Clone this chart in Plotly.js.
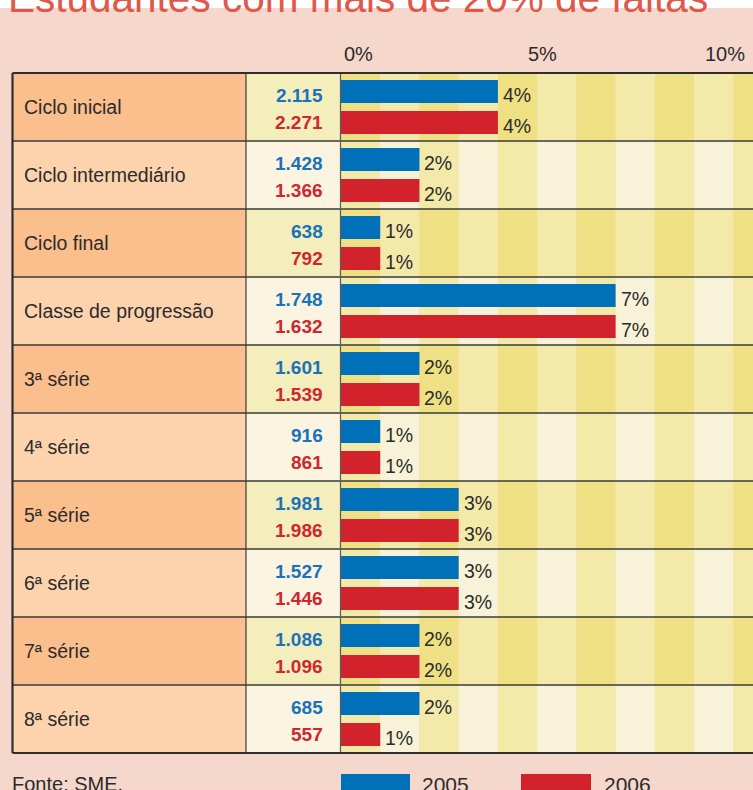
<!DOCTYPE html>
<html>
<head>
<meta charset="utf-8">
<script src="https://cdn.plot.ly/plotly-3.0.1.min.js"></script>
<style>html,body{margin:0;padding:0;background:#f5d7cc;}</style>
</head>
<body>
<div id="chart" style="width:753px;height:790px;"></div>
<script>
// ---- data ----
const titleText = 'Estudantes com mais de 20% de faltas';
const categories = ['Ciclo inicial','Ciclo intermediário','Ciclo final','Classe de progressão','3ª série','4ª série','5ª série','6ª série','7ª série','8ª série'];
const seriesNames = ['2005','2006'];
const students2005 = [2115,1428,638,1748,1601,916,1981,1527,1086,685];
const students2006 = [2271,1366,792,1632,1539,861,1986,1446,1096,557];
const pct2005 = [4,2,1,7,2,1,3,3,2,2];
const pct2006 = [4,2,1,7,2,1,3,3,2,1];
const tickValues = [0,5,10];
const tickLabels = ['0%','5%','10%'];
const sourceText = 'Fonte: SME.';

// ---- styling ----
const W = 753, H = 790;
const FONT = '"Liberation Sans", Arial, sans-serif';
const BLUE = '#0070b9', RED = '#d2222b';
const NUM_BLUE = '#1a72bb', NUM_RED = '#cf2630';
const TXT = '#2b2b2b';
const LINE = '#3a3a3a';
const px = x => x / W;
const py = y => 1 - y / H;
const tableTop = 73, tableBottom = 753;
const colLabelL = 12, colNumL = 246, colBarL = 341;
const pxPerPct = 39.23;
const xMax = (W - colBarL) / pxPerPct;
const tickShift = [17, 5, -8];

function fmt(n){ return String(n).replace(/\B(?=(\d{3})+(?!\d))/g, '.'); }

const traces = [
  {type:'bar', orientation:'h', name:seriesNames[0], y:categories, x:pct2005,
   marker:{color:BLUE, line:{width:0}}, hoverinfo:'skip'},
  {type:'bar', orientation:'h', name:seriesNames[1], y:categories, x:pct2006,
   marker:{color:RED, line:{width:0}}, hoverinfo:'skip'}
];

const shapes = [];
// white strip at very top
shapes.push({type:'rect', xref:'paper', yref:'paper', x0:0, x1:1, y0:py(8), y1:1, fillcolor:'#ffffff', line:{width:0}, layer:'below'});
categories.forEach((c, r) => {
  const odd = r % 2 === 0;
  shapes.push({type:'rect', xref:'paper', yref:'y', x0:px(colLabelL), x1:px(colNumL), y0:r-0.5, y1:r+0.5,
    fillcolor: odd ? '#fbbe8d' : '#fdd3ae', line:{width:0}, layer:'below'});
  shapes.push({type:'rect', xref:'paper', yref:'y', x0:px(colNumL), x1:px(colBarL), y0:r-0.5, y1:r+0.5,
    fillcolor: odd ? '#f4edbc' : '#faf4e0', line:{width:0}, layer:'below'});
  for (let b = 0; b < Math.ceil(xMax); b++) {
    const dark = b % 2 === 0;
    const col = odd ? (dark ? '#eee083' : '#f3e9a9') : (dark ? '#f3e9a9' : '#f8f3d8');
    shapes.push({type:'rect', xref:'x', yref:'y', x0:b, x1:Math.min(b+1, xMax+0.5), y0:r-0.5, y1:r+0.5,
      fillcolor:col, line:{width:0}, layer:'below'});
  }
  if (r > 0) shapes.push({type:'line', xref:'paper', yref:'y', x0:px(colLabelL), x1:1.01, y0:r-0.5, y1:r-0.5,
    line:{color:LINE, width:1.5}, layer:'above'});
});
shapes.push({type:'line', xref:'paper', yref:'paper', x0:px(colNumL), x1:px(colNumL), y0:py(tableBottom), y1:py(tableTop), line:{color:LINE, width:1.2}, layer:'above'});
shapes.push({type:'line', xref:'paper', yref:'paper', x0:px(colBarL-0.5), x1:px(colBarL-0.5), y0:py(tableBottom), y1:py(tableTop), line:{color:'#5a5a5a', width:1.2}, layer:'above'});
shapes.push({type:'line', xref:'paper', yref:'paper', x0:px(colLabelL+0.5), x1:1.01, y0:py(tableTop), y1:py(tableTop), line:{color:'#2e2e2e', width:2.2}, layer:'above'});
shapes.push({type:'line', xref:'paper', yref:'paper', x0:px(colLabelL+0.5), x1:1.01, y0:py(tableBottom), y1:py(tableBottom), line:{color:'#2e2e2e', width:2.2}, layer:'above'});
shapes.push({type:'line', xref:'paper', yref:'paper', x0:px(colLabelL+0.5), x1:px(colLabelL+0.5), y0:py(tableBottom), y1:py(tableTop), line:{color:'#2e2e2e', width:2.2}, layer:'above'});
shapes.push({type:'rect', xref:'paper', yref:'paper', x0:px(341), x1:px(410), y0:-0.05, y1:py(774), fillcolor:BLUE, line:{width:0}});
shapes.push({type:'rect', xref:'paper', yref:'paper', x0:px(521), x1:px(591), y0:-0.05, y1:py(774), fillcolor:RED, line:{width:0}});

const annotations = [];
annotations.push({text:titleText, xref:'paper', yref:'paper', x:px(6), y:py(23), xanchor:'left', yanchor:'bottom',
  showarrow:false, font:{family:FONT, size:40.5, color:'#e0584a'}});
categories.forEach((c, r) => {
  annotations.push({text:c, xref:'paper', yref:'y', x:px(22), y:c, xanchor:'left', yanchor:'middle', showarrow:false,
    font:{family:FONT, size:19.5, color:TXT}});
  annotations.push({text:'<b>'+fmt(students2005[r])+'</b>', xref:'paper', yref:'y', x:px(325), y:c, yshift:12, xanchor:'right', yanchor:'middle', showarrow:false,
    font:{family:FONT, size:19, color:NUM_BLUE}});
  annotations.push({text:'<b>'+fmt(students2006[r])+'</b>', xref:'paper', yref:'y', x:px(325), y:c, yshift:-15, xanchor:'right', yanchor:'middle', showarrow:false,
    font:{family:FONT, size:19, color:NUM_RED}});
  // percentage labels next to the bars
  annotations.push({text:pct2005[r]+'%', xref:'x', yref:'y', x:pct2005[r], y:c, xshift:3, yshift:12.5, xanchor:'left', yanchor:'middle', showarrow:false,
    font:{family:FONT, size:19.5, color:TXT}});
  annotations.push({text:pct2006[r]+'%', xref:'x', yref:'y', x:pct2006[r], y:c, xshift:3, yshift:-19, xanchor:'left', yanchor:'middle', showarrow:false,
    font:{family:FONT, size:19.5, color:TXT}});
});
tickValues.forEach((v, i) => {
  annotations.push({text:tickLabels[i], xref:'x', yref:'paper', x:v, xshift:tickShift[i], y:py(54), xanchor:'center', yanchor:'middle', showarrow:false,
    font:{family:FONT, size:20, color:TXT}});
});
annotations.push({text:sourceText, xref:'paper', yref:'paper', x:px(10), y:py(784), xanchor:'left', yanchor:'middle', showarrow:false,
  font:{family:FONT, size:20, color:TXT}});
annotations.push({text:seriesNames[0], xref:'paper', yref:'paper', x:px(420), y:py(784), xanchor:'left', yanchor:'middle', showarrow:false,
  font:{family:FONT, size:21, color:TXT}});
annotations.push({text:seriesNames[1], xref:'paper', yref:'paper', x:px(602), y:py(784), xanchor:'left', yanchor:'middle', showarrow:false,
  font:{family:FONT, size:21, color:TXT}});

const layout = {
  width:W, height:H, margin:{l:0, r:0, t:0, b:0, pad:0},
  paper_bgcolor:'#f5d7cc', plot_bgcolor:'rgba(0,0,0,0)', showlegend:false,
  barmode:'group', bargap:0.088, bargroupgap:0.258,
  xaxis:{domain:[px(colBarL), 1], range:[0, xMax], showgrid:false, zeroline:false, showticklabels:false, showline:false, ticks:'', fixedrange:true},
  yaxis:{type:'category', domain:[py(tableBottom), py(tableTop)], range:[categories.length-0.5, -0.5], showgrid:false, zeroline:false, showticklabels:false, showline:false, ticks:'', fixedrange:true},
  shapes:shapes, annotations:annotations, font:{family:FONT}
};
Plotly.newPlot('chart', traces, layout, {displayModeBar:false, staticPlot:true});
</script>
</body>
</html>
